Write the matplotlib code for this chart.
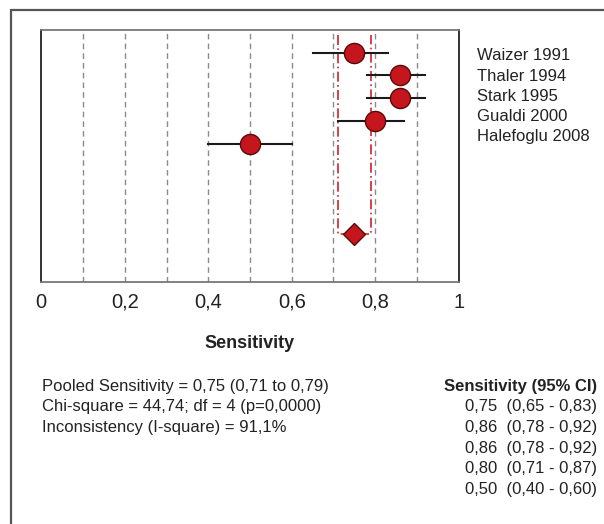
import matplotlib
matplotlib.use("Agg")
import matplotlib.pyplot as plt
import matplotlib.patches as patches
import matplotlib.transforms as mtransforms

plt.rcParams['font.family'] = ['Liberation Sans', 'DejaVu Sans']

# data
studies = ["Waizer 1991", "Thaler 1994", "Stark 1995", "Gualdi 2000", "Halefoglu 2008"]
sens = [0.75, 0.86, 0.86, 0.80, 0.50]
ci_low = [0.65, 0.78, 0.78, 0.71, 0.40]
ci_high = [0.83, 0.92, 0.92, 0.87, 0.60]
pooled = 0.75
pooled_low = 0.71
pooled_high = 0.79
tick_vals = [0, 0.2, 0.4, 0.6, 0.8, 1]
tick_labels = ["0", "0,2", "0,4", "0,6", "0,8", "1"]
stats_lines = ["Pooled Sensitivity = 0,75 (0,71 to 0,79)",
               "Chi-square = 44,74; df = 4 (p=0,0000)",
               "Inconsistency (I-square) = 91,1%"]
ci_header = "Sensitivity (95% CI)"
ci_lines = ["0,75  (0,65 - 0,83)", "0,86  (0,78 - 0,92)", "0,86  (0,78 - 0,92)",
            "0,80  (0,71 - 0,87)", "0,50  (0,40 - 0,60)"]

W, H = 604, 524
fig = plt.figure(figsize=(W / 100, H / 100), dpi=100)

def fx(px):
    return px / W

def fy(py):
    return 1 - py / H

# outer frame (runs off the right and bottom edge)
frame = patches.Rectangle((fx(11), fy(560)), fx(640), 550 / H, transform=fig.transFigure,
                          fill=False, lw=1.6, edgecolor="#555555", clip_on=False)
fig.patches.append(frame)

ax = fig.add_axes([fx(41.3), fy(282), fx(458.7) - fx(41.3), (282 - 30) / H])

for g in [0.1, 0.2, 0.3, 0.4, 0.5, 0.6, 0.7, 0.8, 0.9]:
    ax.axvline(g, color="#8a8a8a", lw=1, linestyle=(0, (4, 3)), zorder=1)

rows = list(range(1, len(studies) + 1))
pooled_row = 9

# pooled CI bracket
ax.plot([pooled_low, pooled_low, pooled_high, pooled_high], [0.2, pooled_row, pooled_row, 0.2],
        color="#d0202a", lw=1.2, linestyle=(0, (6, 2, 1, 2)), zorder=2)

for r, lo, hi in zip(rows, ci_low, ci_high):
    ax.plot([lo, hi], [r, r], color="#1a1a1a", lw=1.5, zorder=3)
ax.plot(sens, rows, "o", ms=14.5, mfc="#c4161c", mec="#5a0a0a", mew=1, zorder=4)
ax.plot([pooled], [pooled_row], "D", ms=11, mfc="#c4161c", mec="#5a0a0a", mew=1, zorder=4)

ax.set_xlim(0, 1)
ax.set_ylim(11.1, 0)
ax.set_yticks([])
ax.set_xticks(tick_vals)
ax.set_xticklabels([])
ax.tick_params(axis="x", length=0)
# tick labels on a shared baseline
trans = mtransforms.blended_transform_factory(ax.transData, fig.transFigure)
for v, lab in zip(tick_vals, tick_labels):
    ax.text(v, fy(308), lab, transform=trans, fontsize=14.5, ha="center",
            va="baseline", color="#222222", clip_on=False)

for side in ["left", "right"]:
    ax.spines[side].set_color("#222222")
for side in ["top", "bottom"]:
    ax.spines[side].set_color("#777777")
for s in ax.spines.values():
    s.set_linewidth(1.3)

fig.text(fx(250), fy(343), "Sensitivity", fontsize=13, fontweight="bold",
         ha="center", va="center", color="#222222")

for i, name in enumerate(studies):
    fig.text(fx(477), fy(56 + 20.2 * i), name, fontsize=12, ha="left", va="center",
             color="#222222")

for i, line in enumerate(stats_lines):
    fig.text(fx(41.5), fy(386 + 20.7 * i), line, fontsize=12, ha="left", va="center",
             color="#222222")

fig.text(fx(597), fy(386), ci_header, fontsize=12, fontweight="bold", ha="right",
         va="center", color="#222222")
for i, line in enumerate(ci_lines):
    fig.text(fx(597), fy(386 + 20.7 * (i + 1)), line, fontsize=12, ha="right",
             va="center", color="#222222")

fig.savefig("out.png", dpi=100)
